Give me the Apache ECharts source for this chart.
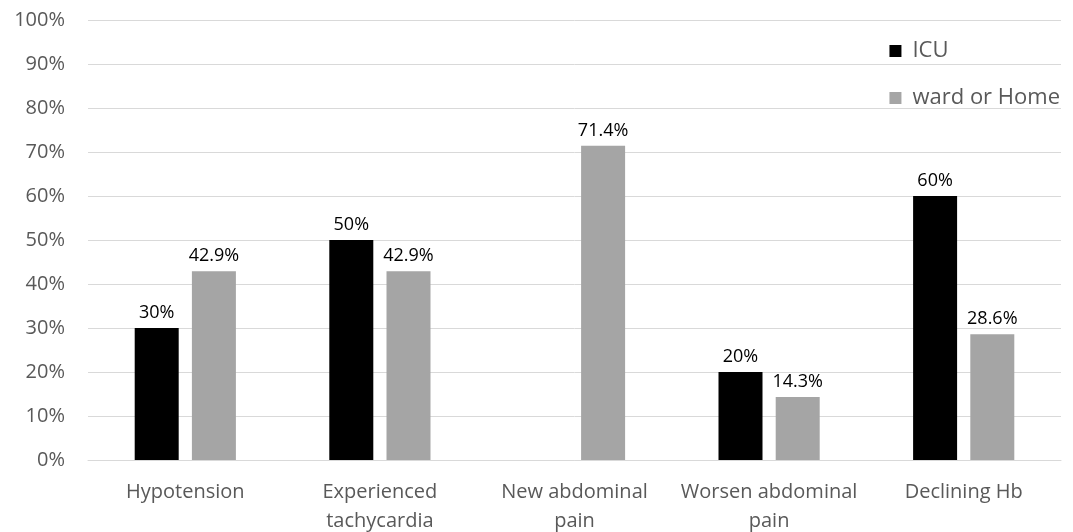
<!DOCTYPE html>
<html>
<head>
<meta charset="utf-8">
<script src="https://cdn.jsdelivr.net/npm/echarts@6/dist/echarts.min.js"></script>
<style>
  html, body { margin: 0; padding: 0; background: #fff; }
  #chart { width: 1073px; height: 532px; }
</style>
</head>
<body>
<div id="chart"></div>
<script>
// categories (x axis)
var categories = ['Hypotension', 'Experienced\ntachycardia', 'New abdominal\npain', 'Worsen abdominal\npain', 'Declining Hb'];
// series values, percent
var icuValues = [30, 50, null, 20, 60];
var wardValues = [42.9, 42.9, 71.4, 14.3, 28.6];
var seriesNames = ['ICU', 'ward or Home'];

var chart = echarts.init(document.getElementById('chart'));

function pctLabel(p) {
    return p.value + '%';
}

var option = {
    animation: false,
    textStyle: { fontFamily: 'Open Sans' },
    grid: { left: 88, right: 12, top: 20, bottom: 72, outerBoundsMode: 'none' },
    legend: {
        orient: 'vertical',
        right: 8,
        top: 35,
        itemWidth: 12,
        itemHeight: 12,
        itemGap: 25,
        icon: 'rect',
        textStyle: { fontSize: 22, color: '#595959', padding: [0, 0, 0, 6] },
        data: seriesNames
    },
    xAxis: {
        type: 'category',
        data: categories,
        axisLine: { lineStyle: { color: '#d9d9d9' } },
        axisTick: { show: false },
        axisLabel: { fontSize: 20, color: '#595959', margin: 18, lineHeight: 29, interval: 0 }
    },
    yAxis: {
        type: 'value',
        min: 0,
        max: 100,
        interval: 10,
        axisLine: { show: false },
        axisTick: { show: false },
        splitLine: { lineStyle: { color: '#d9d9d9' } },
        axisLabel: { fontSize: 20, color: '#595959', margin: 23, formatter: '{value}%' }
    },
    series: [
        {
            name: seriesNames[0],
            type: 'bar',
            data: icuValues,
            barWidth: 44,
            barGap: '30%',
            itemStyle: { color: '#000000' },
            label: { show: true, position: 'top', fontSize: 18, color: '#000', distance: 6, formatter: pctLabel }
        },
        {
            name: seriesNames[1],
            type: 'bar',
            data: wardValues,
            barWidth: 44,
            itemStyle: { color: '#a5a5a5' },
            label: { show: true, position: 'top', fontSize: 18, color: '#000', distance: 6, formatter: pctLabel }
        }
    ]
};
chart.setOption(option);
</script>
</body>
</html>
